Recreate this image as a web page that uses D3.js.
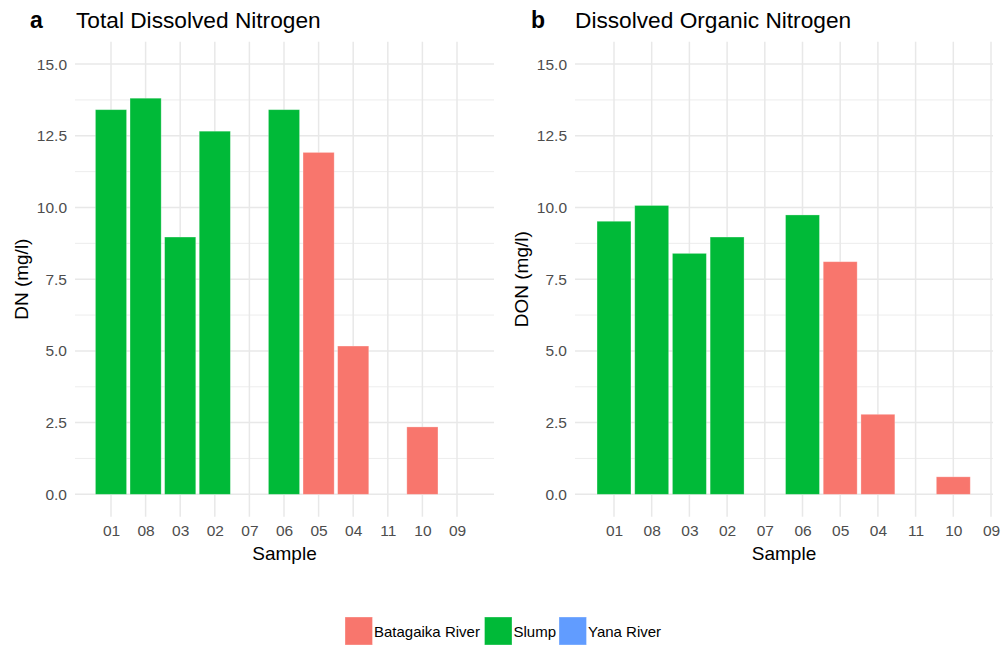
<!DOCTYPE html>
<html>
<head>
<meta charset="utf-8">
<script src="https://cdn.jsdelivr.net/npm/d3@7"></script>
<style>
  html, body { margin: 0; padding: 0; background: #fff; }
  svg { display: block; font-family: "Liberation Sans", Arial, sans-serif; }
</style>
</head>
<body>
<svg id="chart" width="1003" height="646"></svg>
<script>
// ---- data ----
const samples = ["01", "08", "03", "02", "07", "06", "05", "04", "11", "10", "09"];
const groups  = ["Slump", "Slump", "Slump", "Slump", "Yana River", "Slump", "Batagaika River", "Batagaika River", "Yana River", "Batagaika River", "Yana River"];
const dnValues  = [13.41, 13.81, 8.97, 12.66, null, 13.41, 11.92, 5.17, null, 2.35, null];
const donValues = [9.52, 10.07, 8.40, 8.97, null, 9.74, 8.11, 2.79, null, 0.61, null];
const yTicks = [0, 2.5, 5, 7.5, 10, 12.5, 15];
const yMinor = [1.25, 3.75, 6.25, 8.75, 11.25, 13.75];
const legendLabels = ["Batagaika River", "Slump", "Yana River"];
const legendColors = ["#F8766D", "#00BA38", "#619CFF"];

const color = d3.scaleOrdinal().domain(legendLabels).range(legendColors);

const svg = d3.select("#chart");

const panels = [
  { tag: "a", title: "Total Dissolved Nitrogen", ylab: "DN (mg/l)", values: dnValues,
    left: 75, right: 494, firstTick: 111, lastTick: 457, tagX: 30, titleX: 76, ylabX: 22 },
  { tag: "b", title: "Dissolved Organic Nitrogen", ylab: "DON (mg/l)", values: donValues,
    left: 575, right: 993, firstTick: 614, lastTick: 991, tagX: 531, titleX: 575, ylabX: 522 }
];

const plotTop = 41.7, plotBottom = 516.7;
const y = d3.scaleLinear().domain([-0.78, 15.78]).range([plotBottom, plotTop]);

panels.forEach(p => {
  const g = svg.append("g");
  const x = d3.scalePoint().domain(samples).range([p.firstTick, p.lastTick]);
  const bw = x.step() * 0.9;

  // minor horizontal grid
  g.selectAll("line.minor").data(yMinor).join("line").attr("class", "minor")
    .attr("x1", p.left).attr("x2", p.right)
    .attr("y1", d => y(d)).attr("y2", d => y(d))
    .attr("stroke", "#ebebeb").attr("stroke-width", 0.9);
  // major horizontal grid
  g.selectAll("line.major").data(yTicks).join("line").attr("class", "major")
    .attr("x1", p.left).attr("x2", p.right)
    .attr("y1", d => y(d)).attr("y2", d => y(d))
    .attr("stroke", "#e8e8e8").attr("stroke-width", 1.5);
  // vertical grid
  g.selectAll("line.vert").data(samples).join("line").attr("class", "vert")
    .attr("x1", d => x(d)).attr("x2", d => x(d))
    .attr("y1", plotTop).attr("y2", plotBottom)
    .attr("stroke", "#e8e8e8").attr("stroke-width", 1.5);

  // bars
  const data = samples.map((s, i) => ({ s, v: p.values[i], grp: groups[i] })).filter(d => d.v != null);
  g.selectAll("rect.bar").data(data).join("rect").attr("class", "bar")
    .attr("x", d => x(d.s) - bw / 2)
    .attr("width", bw)
    .attr("y", d => y(d.v))
    .attr("height", d => y(0) - y(d.v))
    .attr("fill", d => color(d.grp))
    .attr("stroke", "rgba(255,255,255,0.35)")
    .attr("stroke-width", 0.8);

  // y axis labels
  const yAxis = d3.axisLeft(y).tickValues(yTicks).tickFormat(d3.format(".1f")).tickSize(0).tickPadding(0);
  const ya = g.append("g").attr("transform", `translate(${p.left - 8},0)`).call(yAxis);
  ya.select(".domain").remove();
  ya.selectAll("text").attr("fill", "#4d4d4d").style("font-size", "15.5px")
    .style("font-family", "'Liberation Sans', Arial, sans-serif");

  // x axis labels
  const xAxis = d3.axisBottom(x).tickSize(0).tickPadding(0);
  const xa = g.append("g").attr("transform", `translate(0,${plotBottom + 8})`).call(xAxis);
  xa.select(".domain").remove();
  xa.selectAll("text").attr("fill", "#4d4d4d").style("font-size", "15.5px")
    .style("font-family", "'Liberation Sans', Arial, sans-serif");

  // axis titles
  g.append("text").attr("x", (p.left + p.right) / 2).attr("y", 560)
    .attr("text-anchor", "middle").style("font-size", "19px").attr("fill", "#000").text("Sample");
  g.append("text").attr("transform", `translate(${p.ylabX + 6},${(y(0) + y(15)) / 2}) rotate(-90)`)
    .attr("text-anchor", "middle").style("font-size", "19px").attr("fill", "#000").text(p.ylab);

  // tag & title
  g.append("text").attr("x", p.tagX).attr("y", 28).style("font-size", "23px")
    .style("font-weight", "bold").attr("fill", "#000").text(p.tag);
  g.append("text").attr("x", p.titleX).attr("y", 28).style("font-size", "22.7px")
    .attr("fill", "#000").text(p.title);
});

// legend
const legendX = [345, 484.5, 559];
const lg = svg.append("g");
legendLabels.forEach((lab, i) => {
  lg.append("rect").attr("x", legendX[i]).attr("y", 617).attr("width", 27.5).attr("height", 28)
    .attr("fill", color(lab)).attr("stroke", "rgba(255,255,255,0.4)").attr("stroke-width", 0.8);
  lg.append("text").attr("x", legendX[i] + 29).attr("y", 637).style("font-size", "15px")
    .attr("fill", "#000").text(lab);
});
</script>
</body>
</html>
